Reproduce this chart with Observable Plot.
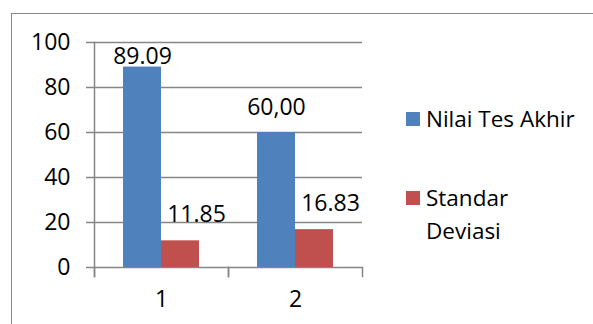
<!DOCTYPE html>
<html>
<head>
<meta charset="utf-8">
<script src="https://cdn.jsdelivr.net/npm/d3@7"></script>
<script src="https://cdn.jsdelivr.net/npm/@observablehq/plot@0.6"></script>
<style>
  html, body { margin: 0; padding: 0; background: #fff; }
  #wrap { position: relative; width: 593px; height: 324px; overflow: hidden; font-family: "Open Sans", sans-serif; }
  #border { position: absolute; left: 11px; top: 13px; width: 640px; height: 400px; border: 1.5px solid #878787; box-sizing: border-box; }
  #chart { position: absolute; left: 0; top: 0; }
  .leg { position: absolute; font-size: 22.5px; color: #000; line-height: 33px; }
  .sw { position: absolute; width: 14px; height: 14px; }
</style>
</head>
<body>
<div id="wrap">
  <div id="border"></div>
  <div id="chart"></div>
</div>
<script>
const groups = ["1", "2"];
const series = ["Nilai Tes Akhir", "Standar Deviasi"];
const nilaiValues = [89.09, 60.00];
const sdValues = [11.85, 16.83];
const nilaiLabels = ["89.09", "60,00"];
const sdLabels = ["11.85", "16.83"];
const yTicks = [0, 20, 40, 60, 80, 100];
const colors = ["#4f81bd", "#c0504d"];

const rows = [];
groups.forEach((g, i) => {
  rows.push({group: g, series: series[0], value: nilaiValues[i], label: nilaiLabels[i]});
  rows.push({group: g, series: series[1], value: sdValues[i], label: sdLabels[i]});
});

const gridColor = "#868686";

const plot = Plot.plot({
  width: 593,
  height: 324,
  marginLeft: 93,
  marginRight: 231,
  marginTop: 42,
  marginBottom: 57,
  style: {fontFamily: "Open Sans, sans-serif", fontSize: "23px", color: "#000", background: "transparent"},
  fx: {domain: groups, padding: 0, axis: "bottom", label: null, tickSize: 0, tickPadding: 23},
  x: {domain: series, axis: null, paddingInner: 0, paddingOuter: 0.75},
  y: {domain: [0, 100], label: null},
  color: {domain: series, range: colors},
  marks: [
    Plot.gridY(yTicks, {stroke: gridColor, strokeOpacity: 1, strokeWidth: 1.5}),
    Plot.axisY(yTicks, {tickSize: 8, tickPadding: 16, stroke: gridColor, strokeWidth: 1.5, label: null, fill: "#000"}),
    Plot.frame({anchor: "left", facet: "super", stroke: gridColor, strokeWidth: 1.5, insetBottom: -9}),
    Plot.frame({anchor: "left", stroke: gridColor, strokeWidth: 1.5, insetTop: 225, insetBottom: -9}),
    Plot.frame({anchor: "right", stroke: gridColor, strokeWidth: 1.5, insetTop: 225, insetBottom: -9}),
    Plot.barY(rows, {fx: "group", x: "series", y: "value", fill: "series"}),
    Plot.text(rows.filter(d => d.series === series[0] && d.group === groups[0]),
      {fx: "group", x: "series", y: "value", text: "label", dy: -10, fill: "#000"}),
    Plot.text(rows.filter(d => d.series === series[0] && d.group === groups[1]),
      {fx: "group", x: "series", y: "value", text: "label", dy: -25, fill: "#000"}),
    Plot.text(rows.filter(d => d.series === series[1]),
      {fx: "group", x: "series", y: "value", text: "label", dx: 16, dy: -26, fill: "#000"})
  ]
});
document.getElementById("chart").appendChild(plot);

// legend (HTML, beside the plot)
const wrap = document.getElementById("wrap");
const legendItems = [
  {color: colors[0], lines: ["Nilai Tes Akhir"], top: 102},
  {color: colors[1], lines: ["Standar", "Deviasi"], top: 181}
];
legendItems.forEach(item => {
  const sw = document.createElement("div");
  sw.className = "sw";
  sw.style.left = "406px";
  sw.style.top = (item.top + 10) + "px";
  sw.style.background = item.color;
  wrap.appendChild(sw);
  const t = document.createElement("div");
  t.className = "leg";
  t.style.left = "426px";
  t.style.top = item.top + "px";
  t.innerHTML = item.lines.join("<br>");
  wrap.appendChild(t);
});
</script>
</body>
</html>
